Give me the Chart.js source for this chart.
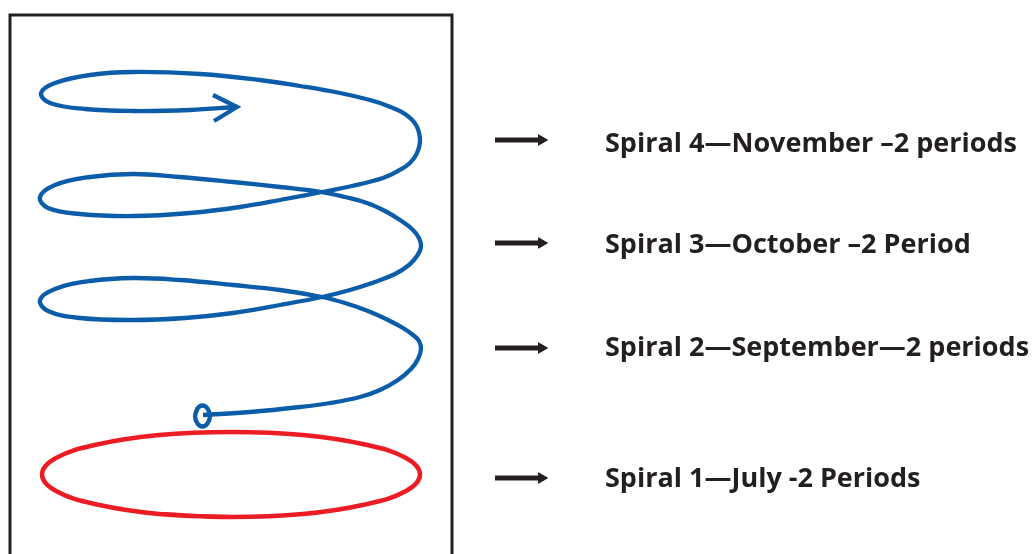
<!DOCTYPE html>
<html>
<head>
<meta charset="utf-8">
<script src="https://cdn.jsdelivr.net/npm/chart.js@4"></script>
<style>
  html, body { margin: 0; padding: 0; background: #fff; }
  #wrap { width: 1032px; height: 554px; }
</style>
</head>
<body>
<div id="wrap"><canvas id="grafico"></canvas></div>
<script>
// Espiral azul: desde el anillo de abajo hasta la flecha de arriba (coordenadas)
const spiralX = [203, 250, 300, 330, 360, 380, 398, 411, 418, 421, 419, 413, 403, 388, 368, 345, 322, 280, 233, 180, 133, 90, 55, 40, 48, 80, 133, 185, 233, 280, 322, 350, 375, 395, 409, 417, 421, 419, 412, 400, 385, 367, 345, 322, 280, 233, 180, 133, 90, 55, 40, 48, 80, 133, 190, 240, 285, 322, 352, 383, 398, 410, 417, 420, 416, 405, 388, 370, 340, 300, 260, 200, 133, 90, 55, 41, 50, 85, 133, 190, 237];
const spiralY = [415, 412, 407, 403, 397, 390, 380, 369, 359, 349, 341, 335, 328, 320, 311, 303, 297, 290, 285, 280, 278, 281, 289, 300, 311, 318, 320, 318, 313, 305, 297, 290, 282, 274, 265, 256, 247, 238, 229, 220, 211, 203, 197, 192, 187, 182, 177, 174, 177, 185, 197, 208, 214, 216, 213, 207, 199, 192, 186, 178, 171, 163, 153, 140, 125, 114, 106, 100, 93, 86, 80, 74, 72, 75, 83, 93, 103, 109, 111, 110, 107];

// Anillo pequeño al inicio de la espiral
const ringX = [195, 197.5, 202.5, 207.5, 210, 207.5, 202.5, 197.5, 195, 197.5];
const ringY = [416, 408.5, 405.5, 408.5, 416, 423.5, 426.5, 423.5, 416, 408.5];

// Punta de flecha abierta al final de la espiral
const tipX = [213, 237, 214];
const tipY = [95, 107, 121];

// Elipse roja (espiral 1)
const ovalX = [231, 159, 97, 56, 42, 56, 97, 159, 231, 303, 365, 406, 420, 406, 365, 303, 231, 159];
const ovalY = [517, 514, 504.5, 491, 474.5, 458, 444.5, 435, 432, 435, 444.5, 458, 474.5, 491, 504.5, 514, 517, 514];

// Marco
const frameX = [10, 10, 452, 452];
const frameY = [600, 15, 15, 600];

// Flechas negras y etiquetas
const arrowStart = 495;
const arrowEnd = 541.5;
const arrowY = [140, 243, 348, 478];
const labelX = 605;
const labelY = [152, 253, 356, 487];
const labels = [
  "Spiral 4\u2014November \u20132 periods",
  "Spiral 3\u2014October \u20132 Period",
  "Spiral 2\u2014September\u20142 periods",
  "Spiral 1\u2014July -2 Periods"
];

const azul = "#0b5ca9";
const rojo = "#ec1c24";
const negro = "#231f20";

function puntos(xs, ys) {
  return xs.map((x, i) => ({ x: x, y: ys[i] }));
}

const datasets = [
  {
    data: puntos(frameX, frameY),
    borderColor: negro, borderWidth: 3, tension: 0,
    borderJoinStyle: "miter", pointRadius: 0
  },
  {
    data: puntos(ovalX, ovalY),
    borderColor: rojo, borderWidth: 4.5, tension: 0.4, pointRadius: 0
  },
  {
    data: puntos(spiralX, spiralY),
    borderColor: azul, borderWidth: 4.3, tension: 0.4, pointRadius: 0
  },
  {
    data: puntos(ringX, ringY),
    borderColor: azul, borderWidth: 4.3, tension: 0.4, pointRadius: 0
  },
  {
    data: puntos(tipX, tipY),
    borderColor: azul, borderWidth: 4.3, tension: 0,
    borderJoinStyle: "miter", pointRadius: 0
  }
];

// una flecha por etiqueta
arrowY.forEach((y) => {
  datasets.push({
    data: [{ x: arrowStart, y: y }, { x: arrowEnd, y: y }],
    borderColor: negro, borderWidth: 5, borderCapStyle: "butt", tension: 0,
    pointRadius: [0, 6], pointStyle: "triangle", pointRotation: 90,
    pointBackgroundColor: negro, pointBorderColor: negro, pointBorderWidth: 1
  });
});

// Plugin para el fondo blanco y los textos
const textos = {
  id: "textos",
  beforeDraw(chart) {
    const c = chart.ctx;
    c.save();
    c.fillStyle = "#fff";
    c.fillRect(0, 0, chart.width, chart.height);
    c.restore();
  },
  afterDatasetsDraw(chart) {
    const c = chart.ctx;
    const sx = chart.scales.x;
    const sy = chart.scales.y;
    c.save();
    c.fillStyle = negro;
    c.font = "bold 27px 'Open Sans', 'Noto Sans', sans-serif";
    c.textAlign = "left";
    c.textBaseline = "alphabetic";
    labels.forEach((t, i) => {
      c.fillText(t, sx.getPixelForValue(labelX), sy.getPixelForValue(labelY[i]));
    });
    c.restore();
  }
};

const ctx = document.getElementById("grafico").getContext("2d");
const grafico = new Chart(ctx, {
  type: "line",
  data: { datasets: datasets },
  options: {
    responsive: true,
    maintainAspectRatio: false,
    animation: false,
    events: [],
    layout: { padding: 0, autoPadding: false },
    plugins: { legend: { display: false }, tooltip: { enabled: false } },
    scales: {
      x: { type: "linear", min: 0, max: 1032, display: false },
      y: { type: "linear", min: 0, max: 554, reverse: true, display: false }
    }
  },
  plugins: [textos]
});
</script>
</body>
</html>
